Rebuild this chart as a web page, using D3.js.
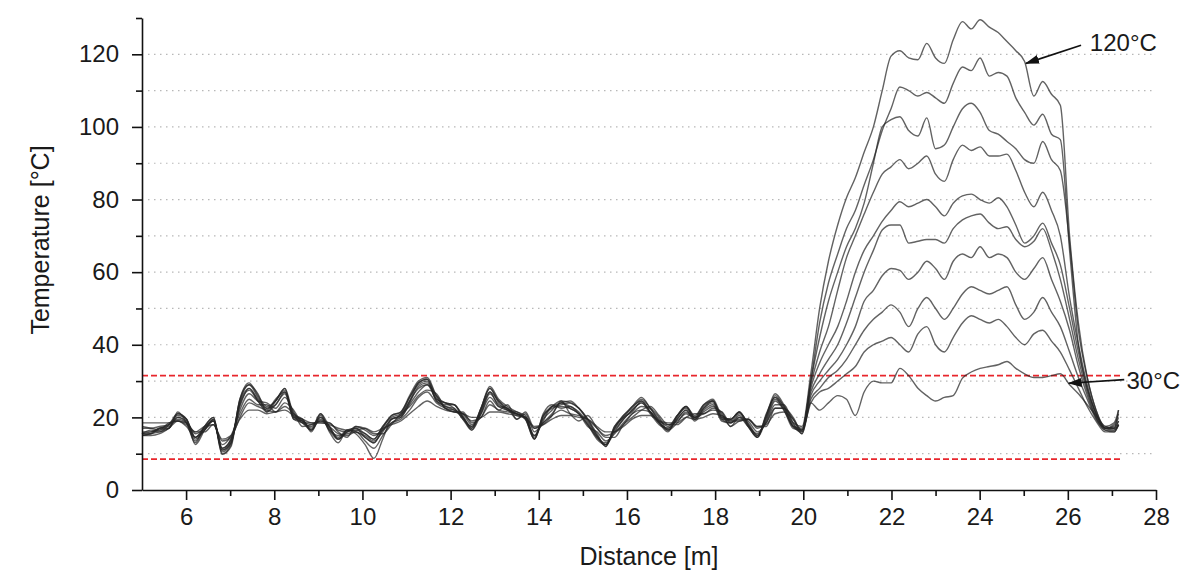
<!DOCTYPE html>
<html>
<head>
<meta charset="utf-8">
<script src="https://cdn.jsdelivr.net/npm/d3@7/dist/d3.min.js"></script>
<style>
    body { margin: 0; background: #ffffff; }
    text { font-family: "Liberation Sans", Arial, sans-serif; fill: #1a1a1a; }
</style>
</head>
<body>
<div id="contenedor"></div>
<script>
const ANCHO = 1194;
const ALTO = 575;

// distancia a lo largo de la fibra [m]
const distancia = [
    5.00, 5.20, 5.40, 5.61, 5.81, 6.01, 6.21, 6.42, 6.62, 6.82,
    7.02, 7.22, 7.43, 7.63, 7.83, 8.03, 8.24, 8.44, 8.64, 8.84,
    9.05, 9.25, 9.45, 9.65, 9.85, 10.06, 10.26, 10.46, 10.66, 10.87,
    11.07, 11.27, 11.47, 11.68, 11.88, 12.08, 12.28, 12.48, 12.69, 12.89,
    13.09, 13.29, 13.50, 13.70, 13.90, 14.10, 14.30, 14.51, 14.71, 14.91,
    15.11, 15.32, 15.52, 15.72, 15.92, 16.12, 16.33, 16.53, 16.73, 16.93,
    17.14, 17.34, 17.54, 17.74, 17.95, 18.15, 18.35, 18.55, 18.75, 18.96,
    19.16, 19.36, 19.56, 19.77, 19.97,
    20.17, 20.37, 20.57, 20.78, 20.98, 21.18, 21.38, 21.59, 21.79, 21.99,
    22.19, 22.39, 22.60, 22.80, 23.00, 23.20, 23.40, 23.61, 23.81, 24.01,
    24.22, 24.42, 24.62, 24.82, 25.02, 25.23, 25.43, 25.63, 25.83, 26.04,
    26.24, 26.44, 26.64, 26.85, 27.05, 27.15
];

const t120 = [
    15, 15.5, 17, 17, 21.5, 18.5, 13, 17.5, 20, 10,
    12.5, 25, 29.5, 26, 23, 24.5, 28, 21, 19.5, 16.5,
    21, 17.5, 14, 16, 17, 15.5, 14, 17.5, 20.5, 21.5,
    26, 30, 31, 26, 24, 23.5, 20.5, 17, 22.5, 28.5,
    25, 23, 21.5, 20.5, 14, 20.5, 23, 24, 24.5, 22.5,
    19.5, 15.5, 12, 17.5, 20.5, 23, 25.5, 22.5, 19.5, 17.5,
    20.5, 23, 20.5, 23.5, 25, 20.5, 19.5, 21.5, 18, 15,
    20.5, 26.5, 23.5, 18.5, 17.5,
    32, 50, 63, 73, 80.5, 86, 93, 100, 110, 119.5,
    121, 119, 118.5, 123, 119, 117.5, 124, 129, 127, 129.5,
    127.5, 126, 123.5, 121, 118, 108.5, 112.5, 109, 106, 70,
    46, 31, 22, 17.5, 18.5, 22
];
const t110 = [
    15.5, 16.5, 16, 18, 21, 19.5, 14, 16.5, 19, 11,
    13.5, 24.5, 29, 25.5, 22.5, 23.5, 27, 20.5, 18.5, 17.5,
    20, 16.5, 15, 15.5, 16, 14.5, 13, 16.5, 19.5, 20.5,
    24.5, 29.5, 30.5, 25.5, 23, 22.5, 19.5, 17.5, 21.5, 27,
    24.5, 22, 21, 19.5, 15, 19.5, 22, 24, 23, 21.5,
    18.5, 14.5, 13, 16.5, 19.5, 22, 24, 21.5, 18.5, 16.5,
    19.5, 22, 19.5, 22.5, 24.5, 19.5, 18.5, 20.5, 17.5, 14.5,
    19.5, 25, 22.5, 17.5, 16.5,
    30, 46, 57, 65, 72, 77, 84, 91, 99, 105,
    111, 110, 108.5, 109.5, 108, 106.5, 112, 116.5, 115.5, 119,
    114, 115, 114, 108, 104, 100.5, 103.5, 98, 96.5, 66,
    40, 28, 21, 17, 18, 21
];
const t100 = [
    16, 16, 17, 17.5, 20, 19, 14.5, 17, 19, 11.5,
    14, 23, 28, 24.5, 21.5, 23.5, 26.5, 19.5, 18.5, 16.5,
    19.5, 17, 14.5, 16.5, 16, 15, 13.5, 16, 19.5, 20,
    24, 28.5, 29.5, 24.5, 23, 22, 20, 16.5, 21, 26.5,
    23.5, 22.5, 20.5, 20, 15, 19, 23, 23, 22.5, 21,
    18, 14, 12.5, 16, 19.5, 22, 24, 21, 18, 17,
    19.5, 22, 19, 22, 23.5, 19, 18.5, 20, 17.5, 15.5,
    19, 24.5, 22, 17, 16.5,
    30, 42, 52, 60, 67, 72, 79, 90, 100, 102,
    102.8, 99, 97.5, 102.5, 94, 95, 100, 105, 106.5, 104,
    99, 98, 96, 94, 91, 90, 96, 91, 88, 68,
    44, 31, 22, 17, 17.5, 20
];
const t90 = [
    15, 15.5, 16, 17, 20, 18.5, 13.5, 17.5, 20, 10.5,
    13, 24, 28, 25, 22.5, 24.5, 27.5, 20, 19, 16.5,
    20, 17.5, 14, 16, 16.5, 15.5, 14, 17.5, 20, 21,
    25.5, 29, 30, 25, 24, 23.5, 20, 17, 22.5, 28,
    24.5, 22.5, 21, 20, 14.5, 20.5, 22.5, 23.5, 24, 22.5,
    19.5, 15, 12.5, 17, 20.5, 22.5, 25, 22.5, 19, 16.5,
    20, 23, 20, 23, 24.5, 20, 19, 21, 18.5, 15,
    20, 26, 23, 18, 16.5,
    29, 38, 45, 55, 64, 70, 76, 82, 87, 89,
    91, 88.5, 90, 92, 87, 85, 91, 95, 93.5, 94.5,
    92, 92, 92.5, 88, 82, 78, 82, 77, 70, 53,
    40, 29, 21, 17, 17, 19
];
const t80 = [
    17.5, 17, 16.5, 18.5, 19, 18.5, 16, 16, 18, 12.5,
    15, 21, 25, 23.5, 23.5, 21.5, 24, 22, 18.5, 18.5,
    18.5, 18.5, 16, 14.5, 17.5, 17, 15.5, 15.5, 18, 21,
    23, 26, 27.5, 26.5, 22.5, 21.5, 21.5, 18.5, 20, 24.5,
    22, 23.5, 19.5, 21.5, 17, 18, 20.5, 24.5, 21, 19,
    20.5, 17, 14.5, 14.5, 18, 20, 22, 23, 20.5, 18,
    18, 20, 21, 21, 22.5, 21.5, 17.5, 19, 19.5, 17.5,
    17.5, 22.5, 22.5, 20, 16,
    28, 35, 40, 45, 52, 60, 66, 70, 74, 77,
    79.4, 78, 79, 80, 78, 75.5, 79, 81, 81.5, 80,
    79, 80.5, 78, 73, 68, 70, 73.5, 68, 62, 50,
    38, 28, 21, 17, 17, 19
];
const t70 = [
    15.5, 16, 16.5, 17, 21, 19.5, 12.5, 16.5, 19.5, 9.8,
    12, 25, 29, 26.5, 21.5, 24.5, 28, 19.5, 19, 17,
    21, 16.5, 14, 16.5, 17, 14.5, 13, 17, 20.5, 21.5,
    25.5, 29.5, 30.5, 24.5, 23.5, 23.5, 20, 17.5, 22.5, 28,
    24, 22, 21.5, 19.5, 14, 20, 23, 24.5, 24, 22.5,
    19, 15, 12, 17.5, 20, 23, 24.5, 21.5, 18.5, 17,
    20.5, 22.5, 20, 23.5, 24.5, 20, 19.5, 21.5, 17.5, 14.5,
    20.5, 25.5, 23, 17.5, 17,
    27, 32, 36, 40, 46, 53, 60, 66, 71.6, 73,
    73, 68, 68.5, 69, 69, 68, 72, 74.4, 75.5, 76,
    73.5, 72, 72.5, 69, 67, 68.5, 72, 66, 58, 47,
    36, 27, 20, 17, 16.5, 18
];
const t60 = [
    17, 17, 17.5, 18, 19.5, 18.5, 15.5, 17, 18, 13.5,
    14.5, 20, 24, 23, 22, 21.5, 23, 21, 19, 18,
    19, 18.5, 16.5, 16, 17.5, 16.5, 15, 16.5, 18.5, 19.5,
    22, 25.5, 27, 24, 22.5, 21.5, 21, 19, 20, 23.5,
    22, 21.5, 21, 20, 17, 18.5, 20.5, 22, 21, 20.5,
    19.5, 17, 15, 16, 18, 21, 22, 21.5, 19, 18,
    19, 21, 20, 21, 22, 21.5, 18.5, 19.5, 19.5, 17,
    18.5, 22.5, 22.5, 19.5, 15.5,
    26, 30, 33, 36, 40, 45, 52, 55, 59, 61,
    60.5, 58, 60, 63, 61, 58, 63, 65, 64, 67,
    64, 65, 64, 60, 58, 61, 64, 58, 52, 44,
    34, 26, 20, 16.5, 16.5, 18
];
const t50 = [
    15, 15, 15.5, 17, 19, 17.5, 14.5, 17.5, 19, 11.5,
    14, 22, 26.5, 24.5, 24, 22.5, 25.5, 21.5, 17.5, 18,
    19, 17.5, 15.5, 15, 16, 13.5, 11.5, 15, 18.5, 20,
    23.5, 27, 29, 26, 22.5, 22, 21, 18, 21, 25.5,
    23, 22.5, 19.5, 21, 16, 18.5, 21, 24, 22.5, 21,
    17.5, 16, 13.5, 15.5, 18.5, 21, 23, 22.5, 20, 16.5,
    18.5, 21.5, 20, 21.5, 23, 21, 17.5, 20, 19, 16,
    18.5, 23.5, 23.5, 18.5, 15.5,
    25, 28, 31, 33, 36, 40, 44, 47, 49, 51,
    49, 45, 50, 53, 50, 47, 50, 54, 56, 55,
    54, 55, 56, 51, 47, 49, 53, 49, 45, 38,
    31, 25, 19.5, 16.5, 16, 18
];
const t40 = [
    18.5, 18.5, 18.5, 18.5, 19, 18, 16, 17.5, 18, 14,
    15, 19.5, 22, 22, 21, 21.5, 22, 20.5, 19.5, 18.5,
    18.5, 18, 17, 16.5, 16.5, 17, 16, 17, 18, 19,
    21, 23, 24.5, 23, 22, 21.5, 21, 20, 20, 21.5,
    21.5, 21, 20.5, 20, 17.5, 18, 19.5, 20.5, 20.5, 20,
    19.5, 17.5, 16, 16, 17.5, 19.5, 20.5, 20.5, 19, 18.5,
    18.5, 20, 19.5, 20, 21, 20.5, 19, 19, 19.5, 17.5,
    18, 21, 21.5, 19.5, 16.5,
    24, 27, 28, 30, 32, 34, 38, 40, 41, 42,
    40, 38, 43, 45, 40, 38, 42, 46, 48, 47,
    46, 47, 45, 42, 40, 43, 44, 41, 38, 33,
    28, 23, 19, 16, 16, 18
];
const t30 = [
    15.5, 15.5, 17, 18, 20.5, 19.5, 14.5, 16.5, 19.5, 11,
    13, 23.5, 27.5, 24.5, 22, 25, 27, 20, 19.5, 16,
    20.5, 16, 13, 16.5, 15.5, 12.5, 8.7, 14, 19.5, 20.5,
    24.5, 28, 29, 25, 24, 22.5, 19.5, 16.5, 22, 27,
    23, 22, 21, 19.5, 14, 21, 23.5, 22.5, 23, 21,
    18, 14.5, 12.5, 17, 20, 21.5, 24.5, 21.5, 18.5, 16,
    20.5, 23, 19.5, 22.5, 24, 19.5, 19.5, 21.5, 18, 14.5,
    21, 25.5, 22, 17.5, 16,
    24, 22, 24, 26, 25, 20.5, 27, 30, 29.5, 29.5,
    33.5, 31.5, 28, 26, 24.5, 25.5, 26, 30.8, 32.5, 33.5,
    34, 34.5, 35.4, 33.5, 32, 31, 31, 31.5, 32, 29,
    26.5, 23.5, 20.5, 17.5, 17, 22
];
const series = [t30, t40, t50, t60, t70, t80, t90, t100, t110, t120];

const ticksX = [6, 8, 10, 12, 14, 16, 18, 20, 22, 24, 26, 28];
const ticksXMenores = [7, 9, 11, 13, 15, 17, 19, 21, 23, 25, 27];
const ticksY = [0, 20, 40, 60, 80, 100, 120];
const ticksYMenores = [10, 30, 50, 70, 90, 110, 130];
const rejillaY = [10, 20, 30, 40, 50, 60, 70, 80, 90, 100, 110, 120];
const limites = [31.5, 8.5];
const finLimites = 27.2;
const finRejilla = 27.9;

const anotaciones = [
    {texto: "120°C", punta: [25.05, 117.5], cola: [26.3, 122.5], pos: [26.5, 123.2]},
    {texto: "30°C", punta: [26.02, 29.4], cola: [27.28, 30.4], pos: [27.33, 30.2]},
];

const x = d3.scaleLinear().domain([5, 28]).range([142, 1156]);
const y = d3.scaleLinear().domain([0, 130]).range([490, 18]);

const $svg = d3.select("#contenedor")
    .append("svg")
    .attr("width", ANCHO)
    .attr("height", ALTO);

$svg.append("defs").append("marker")
    .attr("id", "flecha")
    .attr("markerUnits", "userSpaceOnUse")
    .attr("markerWidth", 14)
    .attr("markerHeight", 9)
    .attr("refX", 13)
    .attr("refY", 4.5)
    .attr("orient", "auto")
    .append("path")
    .attr("d", "M0,0 L14,4.5 L0,9 Z")
    .attr("fill", "#111");

// rejilla punteada
$svg.append("g")
    .selectAll("line")
    .data(rejillaY)
    .join("line")
    .attr("x1", x(5) + 6)
    .attr("x2", x(finRejilla))
    .attr("y1", d => y(d))
    .attr("y2", d => y(d))
    .attr("stroke", "#b8b8b8")
    .attr("stroke-width", 1.2)
    .attr("stroke-dasharray", "1.5,4.5");

// limites en rojo
$svg.append("g")
    .selectAll("line")
    .data(limites)
    .join("line")
    .attr("x1", x(5))
    .attr("x2", x(finLimites))
    .attr("y1", d => y(d))
    .attr("y2", d => y(d))
    .attr("stroke", "#e8262c")
    .attr("stroke-width", 1.6)
    .attr("stroke-dasharray", "6,3");

const linea = d3.line()
    .x((d, i) => x(distancia[i]))
    .y(d => y(d))
    .curve(d3.curveMonotoneX);

$svg.append("g")
    .selectAll("path")
    .data(series)
    .join("path")
    .attr("d", linea)
    .attr("fill", "none")
    .attr("stroke", "#262626")
    .attr("stroke-opacity", 0.72)
    .attr("stroke-linejoin", "round")
    .attr("stroke-width", 1.4);

// ejes
$svg.append("g")
    .attr("transform", `translate(0,${y(0)})`)
    .call(d3.axisBottom(x).tickValues(ticksX).tickSize(10).tickSizeOuter(0).tickPadding(8).tickFormat(d3.format("d")));
$svg.append("g")
    .attr("transform", `translate(0,${y(0)})`)
    .call(d3.axisBottom(x).tickValues(ticksXMenores).tickSize(6).tickSizeOuter(0).tickFormat(""))
    .call(g => g.select(".domain").remove());

$svg.append("g")
    .attr("transform", `translate(${x(5)},0)`)
    .call(d3.axisLeft(y).tickValues(ticksY).tickSize(10).tickSizeOuter(0).tickPadding(13));
$svg.append("g")
    .attr("transform", `translate(${x(5)},0)`)
    .call(d3.axisLeft(y).tickValues(ticksYMenores).tickSize(6).tickSizeOuter(0).tickFormat(""))
    .call(g => g.select(".domain").remove());

$svg.selectAll(".domain, .tick line")
    .attr("stroke", "#111")
    .attr("stroke-width", 1.6);
$svg.selectAll(".tick text")
    .attr("font-size", 24)
    .attr("fill", "#1a1a1a")
    .attr("font-family", "'Liberation Sans', Arial, sans-serif");

// titulos
$svg.append("text")
    .attr("x", 649)
    .attr("y", 565)
    .attr("text-anchor", "middle")
    .attr("font-size", 25)
    .text("Distance [m]");

$svg.append("text")
    .attr("transform", "translate(49,240) rotate(-90)")
    .attr("text-anchor", "middle")
    .attr("font-size", 25)
    .text("Temperature [°C]");

// anotaciones con flecha
for (const a of anotaciones) {
    $svg.append("line")
        .attr("x1", x(a.cola[0]))
        .attr("y1", y(a.cola[1]))
        .attr("x2", x(a.punta[0]))
        .attr("y2", y(a.punta[1]))
        .attr("stroke", "#111")
        .attr("stroke-width", 1.6)
        .attr("marker-end", "url(#flecha)");
    $svg.append("text")
        .attr("x", x(a.pos[0]))
        .attr("y", y(a.pos[1]))
        .attr("dy", "0.35em")
        .attr("font-size", 24)
        .text(a.texto);
}
</script>
</body>
</html>
